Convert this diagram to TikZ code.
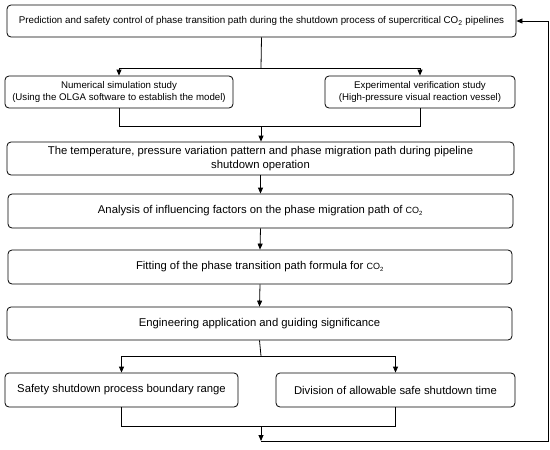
\documentclass[tikz,border=0pt]{standalone}
\usepackage{fontspec}
\setmainfont{Liberation Sans}
\usetikzlibrary{arrows.meta}
\newcommand{\cotwo}{CO\textsubscript{2}}
\newcommand{\cotwos}{{\fontsize{9}{10}\selectfont CO\textsubscript{2}}}
\tikzset{
  box/.style={draw, rounded corners=4pt, line width=0.8pt, align=center, inner sep=0pt, font=\fontsize{11.3}{13.5}\selectfont},
  arr/.style={-{Triangle[length=6pt,width=5pt]}, line width=0.8pt},
  ln/.style={line width=0.8pt}
}
\begin{document}
\begin{tikzpicture}[x=1pt,y=-1pt]
\useasboundingbox (0,0) rectangle (550,450);
\node[box, minimum width=509pt, minimum height=32pt, font=\fontsize{9.8}{12}\selectfont] (top) at (261.5,21) {Prediction and safety control of phase transition path during the shutdown process of supercritical \cotwo{} pipelines};
\node[box, minimum width=228pt, minimum height=32pt, font=\fontsize{9.7}{11.7}\selectfont] (num) at (119,92) {Numerical simulation study\\(Using the OLGA software to establish the model)};
\node[box, minimum width=190pt, minimum height=32pt, font=\fontsize{9.7}{11.7}\selectfont] (exp) at (420,92) {Experimental verification study\\(High-pressure visual reaction vessel)};
\node[box, minimum width=507pt, minimum height=33pt] (b3) at (260.5,158.5) {The temperature, pressure variation pattern and phase migration path during pipeline\\shutdown operation};
\node[box, minimum width=505pt, minimum height=34pt] (b4) at (260.5,211) {Analysis of influencing factors on the phase migration path of \cotwos};
\node[box, minimum width=504pt, minimum height=34pt] (b5) at (260,267) {Fitting of the phase transition path formula for \cotwos};
\node[box, minimum width=505pt, minimum height=33pt] (b6) at (259.5,323.5) {Engineering application and guiding significance};
\node[box, minimum width=233pt, minimum height=34pt] (bl) at (121.5,390) {Safety shutdown process boundary range};
\node[box, minimum width=239pt, minimum height=34pt] (br) at (395.5,390) {Division of allowable safe shutdown time};

\coordinate (s1) at (261,68);
\coordinate (m1) at (261,126);
\coordinate (s2) at (261,356);
\coordinate (m2) at (261,426);
\coordinate (fin) at (261,441);
\coordinate (rc) at (548,441);

\draw[ln] (top.south) -- (s1);
\draw[arr] (s1) -| (num.north);
\draw[arr] (s1) -| (exp.north);
\draw[ln] (num.south) |- (m1);
\draw[ln] (exp.south) |- (m1);
\draw[arr] (m1) -- (m1 |- b3.north);
\draw[arr] (b3.south) -- (b4.north);
\draw[arr] (b4.south) -- (b5.north);
\draw[arr] (b5.south) -- (b6.north);
\draw[ln] (b6.south) -- (s2);
\draw[arr] (s2) -| (bl.north);
\draw[arr] (s2) -| (br.north);
\draw[ln] (bl.south) |- (m2);
\draw[ln] (br.south) |- (m2);
\draw[arr] (m2) -- (fin);
\draw[arr] (fin) -- (rc) |- (top.east);
\end{tikzpicture}
\end{document}
